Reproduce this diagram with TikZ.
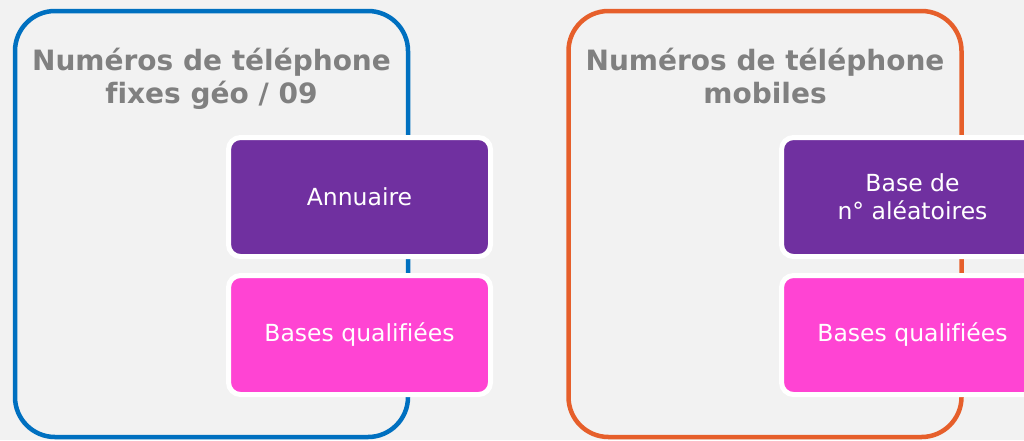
\documentclass[tikz,border=0pt]{standalone}
\usepackage{fontspec}
\setmainfont[Ligatures=NoCommon]{DejaVu Sans}
\definecolor{bg}{HTML}{F2F2F2}
\definecolor{fblue}{HTML}{0070C0}
\definecolor{forange}{HTML}{E65F2B}
\definecolor{bviolet}{HTML}{7030A0}
\definecolor{bpink}{HTML}{FF44D3}
\definecolor{tgray}{HTML}{808080}
\begin{document}
\begin{tikzpicture}[x=1pt,y=-1pt,
  frame/.style={draw, line width=4.5pt, rounded corners=40pt, minimum width=393pt, minimum height=426pt, inner sep=0pt},
  title/.style={text=tgray, font=\bfseries\fontsize{28}{33}\selectfont, align=center, anchor=base, inner sep=0pt},
  bx/.style={draw=white, line width=5pt, rounded corners=12pt, minimum width=262pt, minimum height=119pt, inner sep=0pt, text=white, align=center, font=\fontsize{23.5}{28}\selectfont}]
\useasboundingbox (0,0) rectangle (1024,440);
\fill[bg] (0,0) rectangle (1024,440);
\node[frame, fblue] (fixe) at (211.5,224) {};
\node[frame, forange] (mobile) at (765,224) {};
\node[title] (tfixe) at (211.5,103) {Numéros de téléphone\\fixes géo / 09};
\node[title] (tmobile) at (765,103) {Numéros de téléphone\\mobiles};
\node[bx, fill=bviolet] (annuaire) at (359.5,197) {Annuaire};
\node[bx, fill=bpink] (qualif1) at (359.5,335) {Bases qualifiées};
\node[bx, fill=bviolet] (alea) at (912.5,197) {Base de\\n° aléatoires};
\node[bx, fill=bpink] (qualif2) at (912.5,335) {Bases qualifiées};
\end{tikzpicture}
\end{document}
